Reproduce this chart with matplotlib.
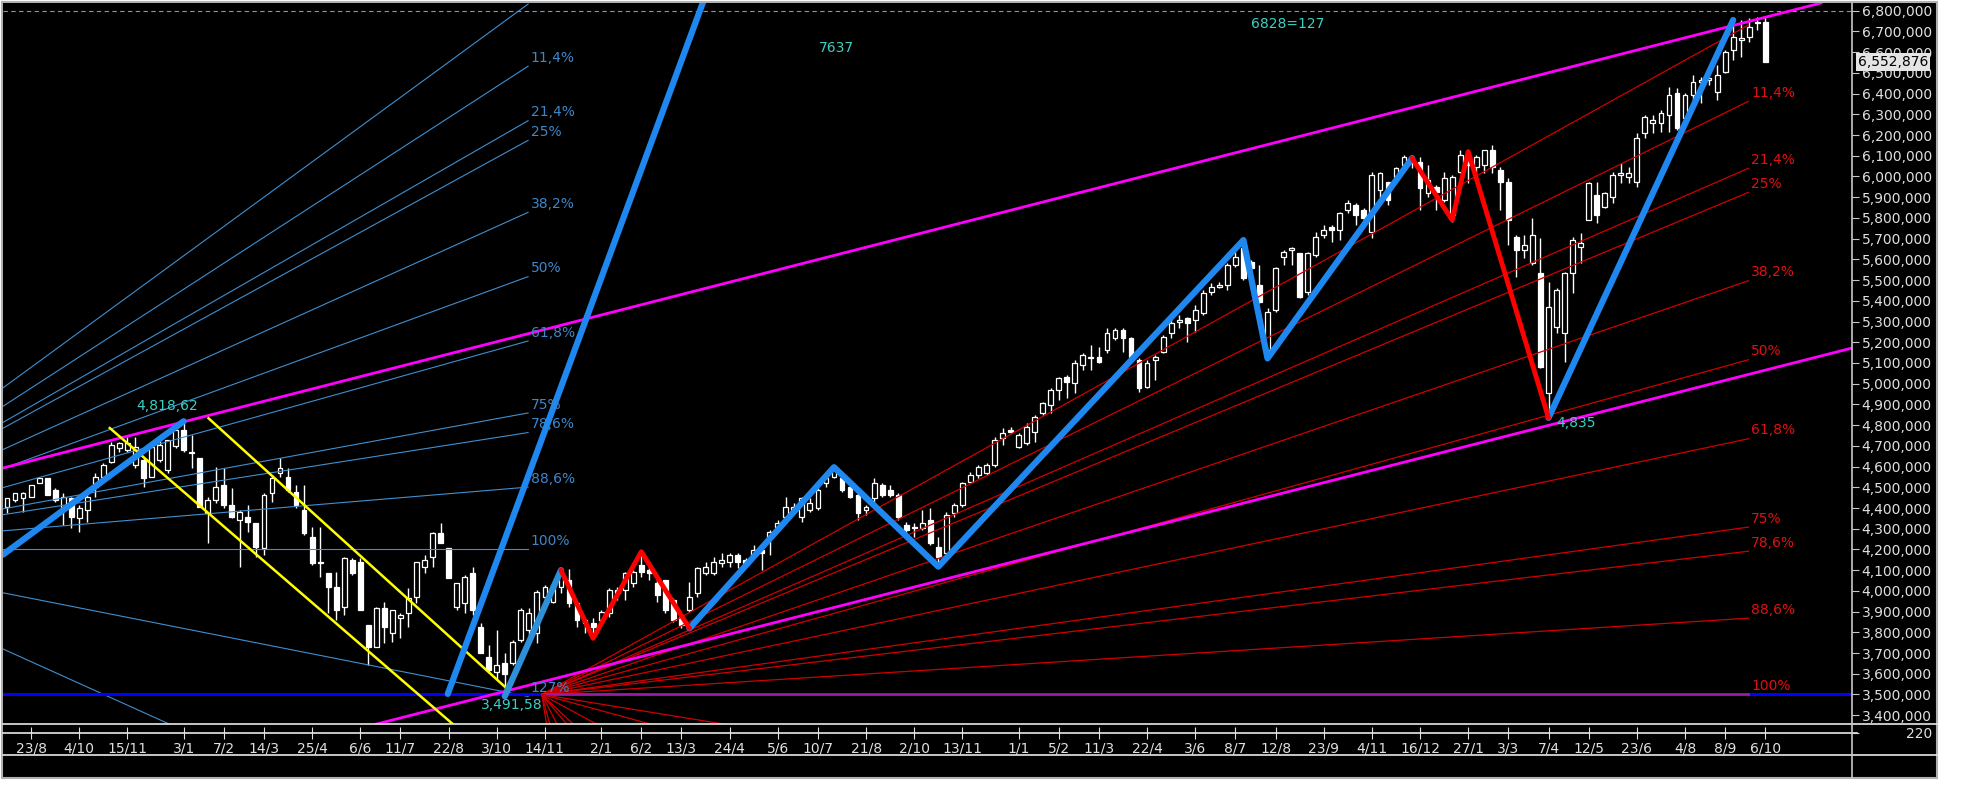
import matplotlib
matplotlib.use('Agg')
import matplotlib.pyplot as plt
from matplotlib.patches import Rectangle
from matplotlib.lines import Line2D
from matplotlib.ticker import FuncFormatter

W, H = 1964, 807

# --- weekly candles (prices in thousands) ---
opens = [4406, 4438, 4447, 4455, 4519, 4543, 4487, 4406, 4447, 4350,
         4390, 4503, 4551, 4624, 4688, 4680, 4607, 4632, 4551, 4632,
         4583, 4700, 4776, 4672, 4640, 4374, 4438, 4511, 4414, 4342,
         4358, 4326, 4205, 4471, 4567, 4551, 4479, 4390, 4261, 4141,
         4085, 4020, 3924, 4149, 4141, 3835, 3731, 3916, 3795, 3868,
         3892, 3972, 4117, 4165, 4278, 4205, 3924, 3940, 4085, 3827,
         3683, 3610, 3650, 3650, 3763, 3811, 3795, 3972, 3948, 4020,
         4052, 3940, 3860, 3843, 3860, 3892, 4004, 4004, 4036, 4125,
         4101, 4036, 4052, 3956, 3876, 3908, 3988, 4085, 4085, 4133,
         4141, 4173, 4149, 4173, 4197, 4261, 4310, 4358, 4390, 4358,
         4390, 4398, 4519, 4551, 4543, 4503, 4463, 4390, 4446, 4511,
         4487, 4463, 4318, 4310, 4302, 4342, 4213, 4181, 4374, 4414,
         4527, 4559, 4567, 4607, 4736, 4776, 4696, 4712, 4768, 4857,
         4897, 4970, 5034, 5002, 5090, 5130, 5130, 5162, 5219, 5259,
         5219, 5114, 4986, 5114, 5154, 5243, 5299, 5315, 5307, 5339,
         5444, 5468, 5476, 5573, 5653, 5589, 5476, 5163, 5355, 5613,
         5645, 5629, 5444, 5621, 5718, 5758, 5742, 5838, 5862, 5838,
         5734, 5935, 5975, 5999, 6055, 6095, 6071, 5919, 5947, 5886,
         5814, 6023, 6063, 6047, 6055, 6128, 6031, 5975, 5709, 5645,
         5581, 5532, 4953, 5275, 5243, 5532, 5661, 5790, 5911, 5854,
         5903, 6007, 5999, 5975, 6208, 6256, 6256, 6297, 6401, 6281,
         6394, 6458, 6466, 6410, 6506, 6611, 6659, 6675, 6747, 6747]
highs = [4450, 4471, 4479, 4511, 4551, 4543, 4495, 4471, 4455, 4414,
         4463, 4567, 4616, 4720, 4720, 4744, 4744, 4648, 4720, 4728,
         4728, 4790, 4818, 4752, 4640, 4455, 4600, 4592, 4495, 4390,
         4414, 4326, 4471, 4559, 4640, 4592, 4511, 4511, 4310, 4310,
         4085, 4093, 4165, 4157, 4157, 3835, 3924, 3948, 3908, 3892,
         4012, 4141, 4173, 4286, 4326, 4205, 4037, 4077, 4117, 3844,
         3739, 3811, 3698, 3763, 3916, 3916, 4004, 4028, 4036, 4101,
         4108, 3948, 3860, 3867, 3908, 4012, 4020, 4093, 4101, 4197,
         4125, 4077, 4052, 3964, 3892, 4044, 4117, 4141, 4165, 4181,
         4181, 4181, 4157, 4221, 4205, 4294, 4342, 4455, 4422, 4455,
         4446, 4495, 4551, 4600, 4559, 4511, 4471, 4414, 4543, 4519,
         4511, 4471, 4334, 4326, 4390, 4398, 4261, 4382, 4422, 4527,
         4575, 4607, 4616, 4744, 4784, 4792, 4760, 4808, 4849, 4913,
         4978, 5034, 5042, 5114, 5146, 5187, 5179, 5267, 5267, 5267,
         5227, 5122, 5114, 5138, 5235, 5331, 5331, 5323, 5380, 5452,
         5484, 5492, 5581, 5637, 5693, 5597, 5573, 5364, 5565, 5645,
         5661, 5629, 5637, 5734, 5766, 5766, 5830, 5886, 5870, 5846,
         6023, 6023, 5975, 6047, 6103, 6104, 6096, 6055, 5959, 6023,
         6007, 6128, 6128, 6104, 6128, 6152, 6047, 5991, 5717, 5717,
         5798, 5701, 5492, 5460, 5541, 5709, 5725, 5975, 5975, 5927,
         6023, 6063, 6047, 6208, 6297, 6297, 6321, 6434, 6426, 6402,
         6490, 6482, 6482, 6538, 6611, 6755, 6755, 6763, 6771, 6771]
lows = [4374, 4430, 4382, 4455, 4519, 4463, 4430, 4318, 4302, 4286,
        4334, 4455, 4551, 4616, 4672, 4672, 4592, 4503, 4551, 4624,
        4567, 4690, 4672, 4592, 4406, 4229, 4422, 4398, 4350, 4117,
        4286, 4165, 4173, 4430, 4551, 4479, 4398, 4270, 4125, 4069,
        3892, 3860, 3884, 4077, 3908, 3642, 3731, 3747, 3755, 3771,
        3828, 3940, 4085, 4117, 4229, 4061, 3908, 3892, 3884, 3699,
        3602, 3570, 3492, 3642, 3755, 3779, 3747, 3956, 3940, 3988,
        3924, 3827, 3795, 3775, 3843, 3876, 3956, 3956, 4020, 4069,
        4052, 3948, 3892, 3851, 3819, 3900, 3972, 4077, 4077, 4117,
        4117, 4109, 4117, 4157, 4101, 4173, 4302, 4350, 4374, 4334,
        4382, 4390, 4503, 4543, 4479, 4446, 4342, 4366, 4430, 4455,
        4455, 4342, 4278, 4261, 4294, 4221, 4117, 4173, 4358, 4406,
        4519, 4543, 4559, 4600, 4704, 4760, 4688, 4704, 4720, 4849,
        4857, 4921, 4929, 4953, 5066, 5066, 5098, 5146, 5211, 5155,
        5122, 4961, 4978, 5018, 5146, 5219, 5267, 5203, 5251, 5331,
        5428, 5460, 5452, 5565, 5500, 5484, 5388, 5122, 5347, 5573,
        5573, 5412, 5428, 5613, 5702, 5686, 5694, 5822, 5766, 5782,
        5702, 5887, 5863, 5983, 6047, 6039, 5838, 5903, 5838, 5878,
        5782, 6015, 5967, 6000, 6015, 6015, 5838, 5669, 5516, 5605,
        5573, 5074, 4835, 5243, 5106, 5436, 5581, 5790, 5774, 5846,
        5870, 5967, 5967, 5951, 6184, 6208, 6216, 6216, 6225, 6273,
        6369, 6353, 6442, 6369, 6498, 6562, 6578, 6651, 6707, 6553]
closes = [4447, 4471, 4471, 4511, 4543, 4463, 4438, 4455, 4358, 4398,
          4455, 4551, 4607, 4704, 4712, 4712, 4696, 4543, 4696, 4704,
          4728, 4776, 4680, 4664, 4406, 4438, 4503, 4414, 4358, 4382,
          4334, 4213, 4463, 4543, 4591, 4487, 4414, 4278, 4133, 4133,
          4020, 3908, 4157, 4085, 3908, 3731, 3916, 3828, 3908, 3884,
          3964, 4141, 4149, 4278, 4229, 4061, 4037, 4069, 3908, 3699,
          3618, 3642, 3600, 3755, 3908, 3892, 3996, 4020, 4028, 4077,
          3940, 3860, 3843, 3827, 3900, 4004, 3988, 4085, 4093, 4093,
          4085, 3980, 3908, 3860, 3835, 3972, 4109, 4117, 4141, 4149,
          4173, 4141, 4133, 4197, 4181, 4286, 4326, 4406, 4406, 4446,
          4422, 4487, 4543, 4583, 4487, 4455, 4374, 4406, 4519, 4463,
          4463, 4358, 4294, 4302, 4326, 4229, 4165, 4366, 4414, 4519,
          4559, 4600, 4607, 4728, 4760, 4768, 4752, 4792, 4841, 4905,
          4970, 5026, 5010, 5098, 5138, 5122, 5106, 5243, 5259, 5219,
          5130, 4978, 5098, 5130, 5227, 5291, 5307, 5291, 5355, 5436,
          5468, 5476, 5573, 5613, 5508, 5557, 5396, 5347, 5557, 5637,
          5653, 5420, 5629, 5710, 5742, 5742, 5822, 5870, 5814, 5798,
          6007, 6015, 5887, 6039, 6095, 6063, 5943, 5983, 5927, 5991,
          5999, 6103, 6055, 6095, 6128, 6047, 5975, 5790, 5645, 5669,
          5717, 5082, 5372, 5452, 5532, 5693, 5677, 5967, 5814, 5919,
          6007, 6015, 6015, 6184, 6289, 6272, 6305, 6393, 6233, 6394,
          6458, 6466, 6474, 6490, 6603, 6675, 6667, 6723, 6739, 6553]

date_labels = ['23/8', '4/10', '15/11', '3/1', '7/2', '14/3', '25/4', '6/6', '11/7',
               '22/8', '3/10', '14/11', '2/1', '6/2', '13/3', '24/4', '5/6', '10/7',
               '21/8', '2/10', '13/11', '1/1', '5/2', '11/3', '22/4', '3/6', '8/7',
               '12/8', '23/9', '4/11', '16/12', '27/1', '3/3', '7/4', '12/5', '23/6',
               '4/8', '8/9', '6/10']
date_pos = [3, 9, 15, 22, 27, 32, 38, 44, 49, 55, 61, 67, 74, 79, 84, 90, 96, 101,
            107, 113, 119, 126, 131, 136, 142, 148, 153, 158, 164, 170, 176, 182,
            187, 192, 197, 203, 209, 214, 219]

# --- zigzag pivots (candle index, price) ---
blue_leg1_x, blue_leg1_y = [-0.5, 22], [4175, 4818.62]
light_leg_x, light_leg_y = [62, 69], [3491.58, 4100]
red_leg1_x, red_leg1_y = [69, 73, 79, 85], [4100, 3771, 4189, 3819]
blue_leg2_x = [85, 103, 116, 154, 157, 175]
blue_leg2_y = [3819, 4597, 4117, 5693, 5122, 6088]
red_leg2_x, red_leg2_y = [175, 180, 182, 192], [6088, 5790, 6120, 4835]
blue_leg3_x, blue_leg3_y = [192, 215], [4835, 6755]
steep_x, steep_y = [54.9, 87.5], [3503, 6926]

# --- channels ---
mag_upper = [(-0.5, 4593), (224, 6818)]
mag_lower = [(62.6, 3521), (229.8, 5172)]
yellow_up_x, yellow_up_y = [25.1, 62.3], [4833, 3527]
yellow_lo_x, yellow_lo_y = [12.8, 56.4], [4786, 3328]
support_level = 3500

# --- fans ---
fib_levels = [0, 0.114, 0.214, 0.25, 0.382, 0.5, 0.618, 0.75, 0.786, 0.886, 1.0]
fib_labels = ['', '11,4%', '21,4%', '25%', '38,2%', '50%', '61,8%', '75%', '78,6%', '88,6%', '100%']
blue_fan_extra = [1.27, 1.618]
blue_fan_extra_labels = ['127%', '']
blue_fan_origin = (-28.0, 4201)
blue_fan_end, blue_fan_top = 64.9, 6832
red_fan_origin = (66.6, 3500)
red_fan_end, red_fan_top = 216.9, 6731
red_rays_end_x = [67.2, 67.6, 68.5, 69.7, 70.5, 73.4, 80.1, 89.2]

price_ticks = list(range(3400, 6801, 100))

fig = plt.figure(figsize=(W / 100, H / 100), dpi=100, facecolor='white')


def fx(px):
    return px / W


def fy(py):
    return 1 - py / H


# outer black panel with grey frame
fig.patches.append(Rectangle((fx(2), fy(778)), fx(1937) - fx(2), fy(2) - fy(778),
                             transform=fig.transFigure, facecolor='black',
                             edgecolor='#b0b0b0', linewidth=1.5, zorder=-10))

ax = fig.add_axes([fx(3), fy(724), fx(1852) - fx(3), fy(3) - fy(724)])
ax.set_facecolor('black')
ax.set_xlim(-0.5, 229.8)
ax.set_ylim(3357.6, 6837.2)
for s in ax.spines.values():
    s.set_visible(False)
ax.set_xticks([])
ax.yaxis.tick_right()
ax.set_yticks(price_ticks)
ax.yaxis.set_major_formatter(FuncFormatter(lambda v, p: '{:,.0f}'.format(v * 1000)))
ax.tick_params(axis='y', colors='#c8c8c8', labelcolor='#e0e0e0', length=5, pad=2, labelsize=10)

# top dashed line
ax.axhline(6800, color='#6f9ccc', lw=0.8, ls=(0, (4, 3)), zorder=1)

# candles
idx = list(range(len(closes)))
ax.vlines(idx, lows, highs, color='white', lw=1, zorder=2)
for i in idx:
    o, c = opens[i], closes[i]
    up = c >= o
    ax.add_patch(Rectangle((i - 0.3, min(o, c)), 0.6, max(abs(c - o), 4),
                           facecolor='black' if up else 'white', edgecolor='white',
                           lw=0.9, zorder=2.5))

# blue fan (left)
bo_x, bo_y = blue_fan_origin
for f, lab in zip(fib_levels + blue_fan_extra, fib_labels + blue_fan_extra_labels):
    ye = blue_fan_top - f * (blue_fan_top - bo_y)
    ax.plot([bo_x, blue_fan_end], [bo_y, ye], color='#3f8fd0', lw=0.8, zorder=3)
    if lab:
        ax.annotate(lab, (blue_fan_end, ye), xytext=(2, 1), textcoords='offset points',
                    color='#3f86c8', fontsize=10, va='bottom', ha='left', zorder=6)

# red fan (right)
ro_x, ro_y = red_fan_origin
for f, lab in zip(fib_levels, fib_labels):
    ye = red_fan_top - f * (red_fan_top - ro_y)
    col = '#9c1aa8' if f == 1.0 else '#d00000'
    ax.plot([ro_x, red_fan_end], [ro_y, ye], color=col, lw=2 if f == 1.0 else 0.9, zorder=3.2)
    if lab:
        ax.annotate(lab, (red_fan_end, ye), xytext=(2, 1), textcoords='offset points',
                    color='#e01010', fontsize=10, va='bottom', ha='left', zorder=6)
for xe in red_rays_end_x:
    ax.plot([ro_x, xe + (xe - ro_x)], [ro_y, ro_y - 2 * (ro_y - 3357.6)], color='#d00000',
            lw=0.9, zorder=3.2)

# horizontal support
ax.plot([-0.5, ro_x], [support_level, support_level], color='#0000ff', lw=2.2, zorder=3.1)
ax.plot([red_fan_end, 229.8], [support_level, support_level], color='#0000ff', lw=2.2, zorder=3.1)

# channels
ax.axline(mag_upper[0], mag_upper[1], color='#ff00ff', lw=2, zorder=4)
ax.axline(mag_lower[0], mag_lower[1], color='#ff00ff', lw=2, zorder=4)
ax.plot(yellow_up_x, yellow_up_y, color='#ffff00', lw=1.8, zorder=4)
ax.plot(yellow_lo_x, yellow_lo_y, color='#ffff00', lw=1.8, zorder=4)

# zigzag
zz = dict(solid_capstyle='round', solid_joinstyle='round', zorder=5)
ax.plot(blue_leg1_x, blue_leg1_y, color='#1e88f0', lw=4.5, **zz)
ax.plot(steep_x, steep_y, color='#1e88f0', lw=4.5, **zz)
ax.plot(light_leg_x, light_leg_y, color='#2e90d8', lw=4.5, **zz)
ax.plot(blue_leg2_x, blue_leg2_y, color='#1e88f0', lw=4.5, **zz)
ax.plot(blue_leg3_x, blue_leg3_y, color='#1e88f0', lw=4.5, **zz)
ax.plot(red_leg1_x, red_leg1_y, color='#ff0000', lw=3.5, **zz)
ax.plot(red_leg2_x, red_leg2_y, color='#ff0000', lw=3.5, **zz)

# annotations
txt = dict(color='#3cd0c4', fontsize=10, zorder=7)
ax.text(19.9, 4892, '4,818,62', ha='center', va='center', **txt)
ax.text(62.9, 3449, '3,491,58', ha='center', va='center', **txt)
ax.text(193.0, 4809, '4,835', ha='left', va='center', **txt)
ax.text(103.3, 6622, '7637', ha='center', va='center', **txt)
ax.text(159.5, 6737, '6828=127', ha='center', va='center', **txt)

# current price box
fig.text(fx(1858), fy(62), '{:,.0f}'.format(6552876), color='black', fontsize=10,
         ha='left', va='center', bbox=dict(facecolor='#e4e4e4', edgecolor='none', pad=1.2),
         zorder=10)

# sub panel + date axis
ax2 = fig.add_axes([fx(3), fy(733), fx(1852) - fx(3), fy(724) - fy(733)])
ax2.set_facecolor('black')
ax2.set_xlim(ax.get_xlim())
ax2.set_ylim(220, 300)
for s in ax2.spines.values():
    s.set_visible(False)
ax2.yaxis.tick_right()
ax2.set_yticks([220])
ax2.set_yticklabels(['220'])
ax2.set_xticks(date_pos)
ax2.set_xticklabels(date_labels)
ax2.tick_params(axis='x', colors='#e0e0e0', direction='inout', length=8, pad=2, labelsize=10)
ax2.tick_params(axis='y', colors='#c8c8c8', labelcolor='#e0e0e0', length=5, pad=34, labelsize=10)

for y0, x1 in [(724, 1937), (733, 1857), (755, 1937)]:
    fig.add_artist(Line2D([fx(3), fx(x1)], [fy(y0), fy(y0)], color='#e8e8e8', lw=1.2))
fig.add_artist(Line2D([fx(1852), fx(1852)], [fy(3), fy(778)], color='#c8c8c8', lw=1.2))

fig.savefig('out.png', dpi=100, facecolor='white')
